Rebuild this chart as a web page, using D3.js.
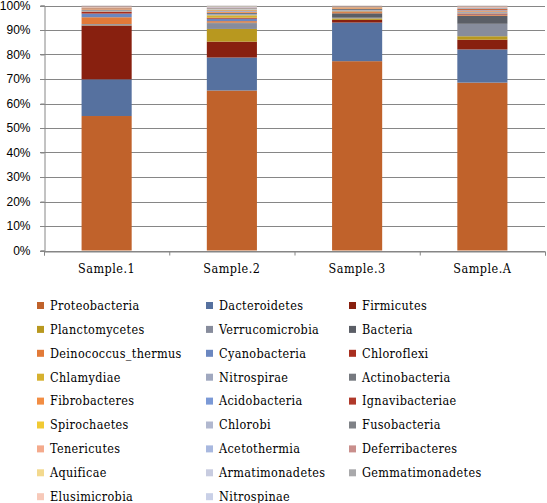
<!DOCTYPE html>
<html><head><meta charset="utf-8">
<script src="https://cdn.jsdelivr.net/npm/d3@7"></script>
<style>
body{margin:0;background:#fff;}
svg{display:block;}
.ser{font-stretch:condensed;}
</style></head>
<body>
<svg id="c" width="547" height="503"></svg>
<script>
const categories = ["Sample.1","Sample.2","Sample.3","Sample.A"];
const seriesNames = ["Proteobacteria","Dacteroidetes","Firmicutes","Planctomycetes","Verrucomicrobia","Bacteria",
 "Deinococcus_thermus","Cyanobacteria","Chloroflexi","Chlamydiae","Nitrospirae","Actinobacteria",
 "Fibrobacteres","Acidobacteria","Ignavibacteriae","Spirochaetes","Chlorobi","Fusobacteria",
 "Tenericutes","Acetothermia","Deferribacteres","Aquificae","Armatimonadetes","Gemmatimonadetes",
 "Elusimicrobia","Nitrospinae"];
const seriesColors = ["#C0622B","#56719F","#88200F","#B8981F","#878C9C","#5B5E66",
 "#E27A38","#6B87C0","#A82E1F","#D6B12F","#A0A8BF","#76797F",
 "#F28D43","#7B99D6","#B0392A","#F1CA34","#B1B8CF","#7F8287",
 "#F4AA8C","#A8B8DF","#C98F8C","#F3D98E","#C8CCE0","#A9A9AB",
 "#F7C9B9","#C9D0E7"];
const sample1 = [55.0,15.0,22.0,0.1,0.4,0.1,2.8,1.5,0.8,0.1,0.3,0.3,0.3,0.2,0.2,0.1,0.1,0.1,0.2,0.1,0.2,0.05,0.05,0.1,0.05,0.05];
const sample2 = [65.5,13.5,6.5,5.2,2.3,0.3,0.6,1.0,0.4,1.0,0.5,0.5,0.5,0.3,0.2,0.3,0.3,0.3,0.2,0.2,0.1,0.2,0.2,0.1,0.05,0.05];
const sample3 = [77.5,15.8,1.1,0.6,0.3,1.8,0.5,0.2,0.1,0.2,0.3,0.6,0.4,0.1,0.1,0.1,0.1,0.1,0.1,0.05,0.05,0.05,0.05,0.05,0.02,0.02];
const sampleA = [68.8,13.6,4.0,1.4,5.1,3.3,0.3,0.2,0.4,0.1,0.4,0.3,0.4,0.2,0.4,0.1,0.2,0.2,0.3,0.1,0.2,0.1,0.1,0.1,0.05,0.05];
const yTicks = [0,0.1,0.2,0.3,0.4,0.5,0.6,0.7,0.8,0.9,1];

const serifFont = "'DejaVu Serif Condensed','DejaVu Serif',serif";
const sansFont = "'Liberation Sans',Arial,sans-serif";

const samples = [sample1,sample2,sample3,sampleA];
const rows = categories.map((c,i)=>{const o={cat:c}; seriesNames.forEach((s,j)=>o[s]=samples[i][j]); return o;});

const svg = d3.select("#c");
const L=44, R=545, T=5.5, B=250.5;
const x = d3.scaleBand().domain(categories).range([L,R]).paddingInner(0.6).paddingOuter(0.3);
const xb = d3.scaleLinear().domain([0,categories.length]).range([L,R]);
const y = d3.scaleLinear().domain([0,1]).range([B,T]);
const color = d3.scaleOrdinal().domain(seriesNames).range(seriesColors);
const axisCol = "#868686";

svg.append("g").selectAll("line").data(yTicks).join("line")
  .attr("x1",L-4).attr("x2",R).attr("y1",d=>Math.round(y(d))+0.5).attr("y2",d=>Math.round(y(d))+0.5)
  .attr("stroke",axisCol).attr("stroke-width",1);

const stack = d3.stack().keys(seriesNames).offset(d3.stackOffsetExpand);
const layers = stack(rows);
svg.append("g").selectAll("g").data(layers).join("g").attr("fill",d=>color(d.key))
  .selectAll("rect").data(d=>d).join("rect")
  .attr("x",d=>x(d.data.cat)).attr("width",x.bandwidth())
  .attr("y",d=>y(d[1])).attr("height",d=>Math.max(0,y(d[0])-y(d[1])));

const yAxis = svg.append("g").attr("transform",`translate(${L+0.5},0)`)
  .call(d3.axisLeft(y).tickValues(yTicks).tickFormat(d3.format(".0%")).tickSize(4).tickPadding(10));
yAxis.attr("font-family",sansFont).attr("font-size",12);
yAxis.select(".domain").attr("stroke",axisCol);
yAxis.selectAll(".tick line").attr("stroke",axisCol);
yAxis.selectAll("text").attr("fill","#000");

const xAxis = svg.append("g").attr("transform",`translate(0,${Math.round(B)+0.5})`)
  .call(d3.axisBottom(xb).tickValues(d3.range(categories.length+1)).tickFormat("").tickSize(4).tickSizeOuter(4));
xAxis.select(".domain").attr("stroke",axisCol);
xAxis.selectAll(".tick line").attr("stroke",axisCol);

const xLab = svg.append("g").attr("transform",`translate(0,${Math.round(B)})`)
  .call(d3.axisBottom(x).tickSize(0).tickPadding(13));
xLab.select(".domain").remove();
xLab.attr("font-family",serifFont).attr("font-size",12.5).attr("class","ser");
xLab.selectAll("text").attr("fill","#000").attr("letter-spacing","0.5px");

const colX = [37,206,349];
const rowY0 = 305.5, rowStep = 23.9;
const leg = svg.append("g").attr("font-family",serifFont).attr("font-size",12.5).attr("class","ser")
  .selectAll("g").data(seriesNames).join("g")
  .attr("transform",(d,i)=>`translate(${colX[i%3]},${rowY0+Math.floor(i/3)*rowStep})`);
leg.append("rect").attr("x",0).attr("y",-3.5).attr("width",7).attr("height",7).attr("fill",d=>color(d));
leg.append("text").attr("x",13).attr("y",0).attr("dy","0.35em").attr("fill","#000").attr("letter-spacing","0.35px").text(d=>d);
</script>
</body></html>
